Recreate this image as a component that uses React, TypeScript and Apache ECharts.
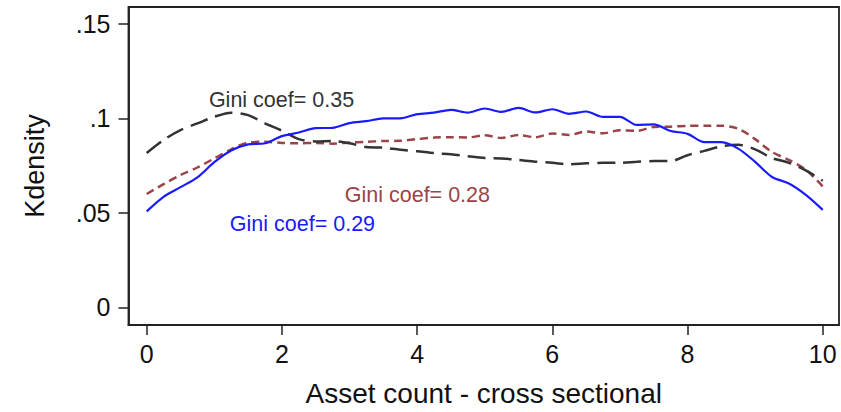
import React, { useEffect, useRef } from "react";
import * as echarts from "echarts";

const xs = [0, 0.25, 0.5, 0.75, 1, 1.25, 1.5, 1.75, 2, 2.25, 2.5, 2.75, 3, 3.25, 3.5, 3.75, 4, 4.25, 4.5, 4.75, 5, 5.25, 5.5, 5.75, 6, 6.25, 6.5, 6.75, 7, 7.25, 7.5, 7.75, 8, 8.25, 8.5, 8.75, 9, 9.25, 9.5, 9.75, 10];

const blueGini029 = [0.0508, 0.0585, 0.0636, 0.0688, 0.0768, 0.083, 0.0862, 0.0868, 0.0906, 0.0925, 0.0948, 0.095, 0.0975, 0.0985, 0.1, 0.1, 0.1022, 0.103, 0.1045, 0.103, 0.1052, 0.1034, 0.1055, 0.1031, 0.1048, 0.1024, 0.1036, 0.1008, 0.1008, 0.0965, 0.0968, 0.0933, 0.0918, 0.0874, 0.0874, 0.084, 0.077, 0.069, 0.0655, 0.0595, 0.0516];

const redGini028 = [0.06, 0.0652, 0.07, 0.074, 0.0788, 0.0836, 0.0872, 0.0876, 0.087, 0.0868, 0.087, 0.0866, 0.0872, 0.0876, 0.088, 0.0881, 0.089, 0.0898, 0.09, 0.0899, 0.091, 0.0896, 0.0912, 0.09, 0.092, 0.0912, 0.093, 0.0921, 0.0937, 0.0934, 0.0954, 0.0956, 0.096, 0.0961, 0.0961, 0.0945, 0.089, 0.0822, 0.078, 0.0728, 0.064];

const blackGini035 = [0.0817, 0.0886, 0.0938, 0.0973, 0.1008, 0.103, 0.1017, 0.0973, 0.0935, 0.089, 0.0878, 0.088, 0.0868, 0.0848, 0.0845, 0.0834, 0.0826, 0.0816, 0.081, 0.08, 0.079, 0.0788, 0.078, 0.0771, 0.0765, 0.0757, 0.0762, 0.0765, 0.0765, 0.077, 0.0774, 0.0774, 0.0805, 0.0828, 0.0852, 0.086, 0.0836, 0.079, 0.0765, 0.0725, 0.067];

const xTicks = [0, 2, 4, 6, 8, 10];
const yTicks = [0, 0.05, 0.1, 0.15];

const annotations = [
  { text: "Gini coef= 0.35", x: 0.92, y: 0.1099, color: "#333333" },
  { text: "Gini coef= 0.28", x: 2.93, y: 0.0593, color: "#9b4448" },
  { text: "Gini coef= 0.29", x: 1.23, y: 0.0442, color: "#1a1aff" },
];

const FONT = "'Liberation Sans', Arial, Helvetica, sans-serif";

export default function App() {
  const ref = useRef<HTMLDivElement>(null);
  useEffect(() => {
    if (!ref.current) return;
    const chart = echarts.init(ref.current, undefined, { renderer: "svg" });
    const pair = (arr: number[]) => xs.map((x, i) => [x, arr[i]]);
    chart.setOption({
      animation: false,
      backgroundColor: "#ffffff",
      grid: {
        left: 128.5,
        right: 2,
        top: 7,
        bottom: 82.5,
        containLabel: false,
        show: true,
        borderColor: "#222",
        borderWidth: 1.8,
        backgroundColor: "transparent",
      },
      xAxis: {
        type: "value",
        min: -0.2692,
        max: 10.241,
        axisLine: { show: true, onZero: false, lineStyle: { color: "#222", width: 1.8 } },
        axisTick: { show: true, length: 10, customValues: xTicks, lineStyle: { color: "#222", width: 1.5 } },
        axisLabel: { color: "#111", fontSize: 25, fontFamily: FONT, margin: 16, customValues: xTicks },
        splitLine: { show: false },
        name: "Asset count - cross sectional",
        nameLocation: "middle",
        nameGap: 54,
        nameTextStyle: { color: "#111", fontSize: 28, fontFamily: FONT },
      },
      yAxis: {
        type: "value",
        min: -0.00928,
        max: 0.15887,
        axisLine: { show: true, onZero: false, lineStyle: { color: "#222", width: 1.8 } },
        axisTick: { show: true, length: 10, customValues: yTicks, lineStyle: { color: "#222", width: 1.5 } },
        axisLabel: {
          color: "#111",
          fontSize: 25,
          fontFamily: FONT,
          margin: 18,
          customValues: yTicks,
          formatter: (v: number) => {
            const r = +v.toFixed(2);
            return r === 0 ? "0" : String(r).replace(/^0/, "");
          },
        },
        splitLine: { show: false },
        name: "Kdensity",
        nameLocation: "middle",
        nameGap: 80,
        nameTextStyle: { color: "#111", fontSize: 27, fontFamily: FONT },
      },
      series: [
        {
          type: "line",
          data: pair(blackGini035),
          showSymbol: false,
          smooth: 0.3,
          lineStyle: { color: "#333333", width: 2.5, type: [18, 8] },
          z: 3,
        },
        {
          type: "line",
          data: pair(redGini028),
          showSymbol: false,
          smooth: 0.3,
          lineStyle: { color: "#9b4448", width: 2.5, type: [8, 5] },
          z: 2,
        },
        {
          type: "line",
          data: pair(blueGini029),
          showSymbol: false,
          smooth: 0.3,
          lineStyle: { color: "#1a1aff", width: 2.2 },
          z: 4,
        },
      ],
    });
    const texts = annotations.map((a) => {
      const p = chart.convertToPixel({ gridIndex: 0 }, [a.x, a.y]) as number[];
      return {
        type: "text",
        x: p[0],
        y: p[1],
        style: {
          text: a.text,
          fill: a.color,
          font: `21.5px ${FONT}`,
          verticalAlign: "middle",
          align: "left",
        },
        z: 10,
      };
    });
    chart.setOption({ graphic: texts });
    return () => chart.dispose();
  }, []);
  return (
    <div
      ref={ref}
      style={{ position: "fixed", left: 0, top: 0, width: 841, height: 412, background: "#fff" }}
    />
  );
}
